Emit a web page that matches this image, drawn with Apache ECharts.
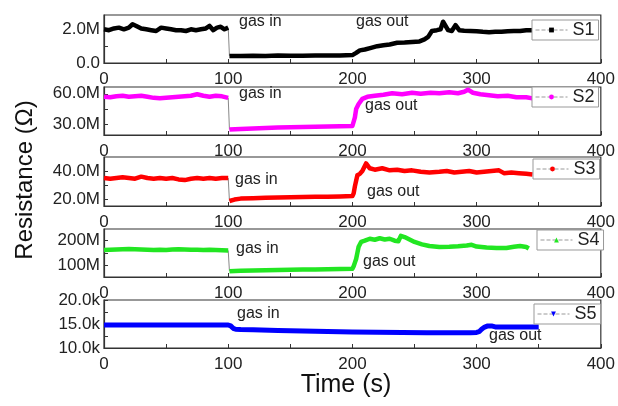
<!DOCTYPE html>
<html>
<head>
<meta charset="utf-8">
<script src="https://cdn.jsdelivr.net/npm/echarts@6/dist/echarts.min.js"></script>
<style>
  html, body { margin: 0; padding: 0; background: #fff; }
  #chart { width: 618px; height: 406px; }
</style>
</head>
<body>
<div id="chart"></div>
<script>
// x axis ticks / labels (s)
var xTicks = [0, 50, 100, 150, 200, 250, 300, 350, 400];
var xLabels = [0, 100, 200, 300, 400];

// S1 (M ohm)
var s1PreT = [0, 4, 8, 12, 16, 20, 23, 26, 30, 34, 38, 42, 46, 50, 54, 58, 62, 66, 70, 74, 78, 82, 85, 88, 91, 94, 97, 100];
var s1PreV = [2.0, 1.95, 2.05, 2.1, 2.0, 2.1, 2.3, 2.2, 2.05, 2.0, 1.95, 1.9, 2.1, 2.05, 2.0, 1.95, 1.95, 1.9, 2.0, 1.95, 2.0, 2.05, 2.2, 1.95, 2.1, 2.15, 2.0, 2.1];
var s1PostT = [101, 110, 120, 130, 140, 150, 160, 170, 180, 190, 200, 203, 206, 210, 215, 220, 225, 230, 236, 242, 248, 254, 258, 261, 264, 268, 271, 273, 275, 277, 280, 283, 286, 290, 295, 300, 305, 310, 315, 320, 325, 330, 335, 340, 345];
var s1PostV = [0.42, 0.42, 0.43, 0.42, 0.44, 0.43, 0.43, 0.44, 0.44, 0.45, 0.47, 0.6, 0.75, 0.8, 0.9, 1.0, 1.05, 1.1, 1.2, 1.22, 1.25, 1.28, 1.4, 1.55, 1.9, 1.95, 2.0, 2.45, 2.2, 1.95, 1.9, 2.25, 1.95, 1.92, 1.9, 1.88, 1.85, 1.83, 1.85, 1.85, 1.88, 1.9, 1.9, 1.95, 1.95];

// S2 (M ohm)
var s2PreT = [0, 5, 10, 15, 20, 25, 30, 35, 40, 45, 50, 55, 60, 65, 70, 75, 80, 85, 90, 95, 100];
var s2PreV = [57, 56.5, 57.5, 58, 57, 57.5, 58, 57, 56, 55.5, 56, 56.5, 57, 57.5, 58, 59.5, 58, 57, 58, 57.5, 56];
var s2PostT = [101, 110, 120, 130, 140, 150, 160, 170, 180, 190, 200, 201, 202, 203, 205, 208, 212, 218, 225, 232, 240, 248, 255, 263, 270, 278, 285, 290, 293, 297, 303, 310, 317, 325, 332, 340, 345];
var s2PostV = [25, 25.5, 26, 26.5, 27, 27.2, 27.5, 27.8, 28, 28.3, 28.5, 29, 37, 45, 50, 55, 57, 58, 59, 60.5, 59.5, 61, 60, 61, 60.5, 61.5, 60.5, 62, 64, 61, 59.5, 58.5, 57.5, 58, 56.5, 56.5, 55.5];

// S3 (M ohm)
var s3PreT = [0, 5, 10, 15, 20, 25, 30, 35, 40, 45, 50, 55, 60, 65, 70, 75, 80, 85, 90, 95, 100];
var s3PreV = [35, 34.5, 35, 35.5, 35, 34.5, 36, 35, 34.5, 35, 34.5, 35, 34, 33.5, 34.5, 35, 34.5, 35, 34.5, 35, 35];
var s3PostT = [101, 105, 110, 120, 130, 140, 150, 160, 170, 180, 190, 200, 201, 202, 203, 204, 206, 208, 211, 214, 218, 224, 230, 236, 242, 248, 255, 262, 270, 276, 282, 288, 294, 300, 306, 312, 318, 322, 328, 334, 340, 345];
var s3PostV = [18.5, 19.5, 20.2, 20.5, 20.8, 21, 21.2, 21.3, 21.5, 21.6, 21.8, 22, 24, 29, 33, 37, 38, 40, 45.5, 42, 41, 42, 40.5, 41, 40, 40.5, 39.5, 39, 39.5, 40, 39, 39.5, 40, 39, 39.5, 40, 40.5, 38.5, 39, 38.5, 38, 37.5];

// S4 (M ohm)
var s4PreT = [0, 5, 10, 15, 20, 25, 30, 35, 40, 45, 50, 55, 60, 65, 70, 75, 80, 85, 90, 95, 100];
var s4PreV = [162, 163, 164, 165, 166, 165, 164, 163, 162, 163, 162, 164, 165, 164, 163, 163, 162, 163, 162, 161, 160];
var s4PostT = [101, 110, 120, 130, 140, 150, 160, 170, 180, 190, 200, 201, 202, 203, 204, 205, 207, 210, 214, 218, 222, 226, 230, 234, 237, 239, 242, 246, 250, 256, 262, 270, 278, 285, 292, 296, 300, 308, 316, 324, 330, 335, 340, 342];
var s4PostV = [75, 77, 78, 79, 80, 81, 82, 82, 83, 84, 85, 95, 110, 125, 150, 175, 195, 200, 208, 204, 210, 205, 208, 200, 198, 220, 215, 205, 195, 185, 178, 174, 175, 177, 180, 183, 176, 172, 170, 170, 175, 178, 174, 168];

// S5 (k ohm)
var s5T = [0, 10, 20, 30, 40, 50, 60, 70, 80, 90, 100, 102, 104, 106, 110, 120, 140, 160, 180, 200, 220, 240, 260, 280, 295, 300, 302, 304, 306, 309, 312, 315, 320, 330, 340, 350];
var s5V = [14.8, 14.8, 14.8, 14.8, 14.8, 14.8, 14.8, 14.8, 14.8, 14.8, 14.8, 14.6, 14.1, 13.9, 13.85, 13.8, 13.65, 13.55, 13.45, 13.35, 13.3, 13.25, 13.2, 13.2, 13.2, 13.25, 13.4, 13.9, 14.3, 14.6, 14.6, 14.4, 14.35, 14.35, 14.35, 14.4];

// y tick values and their label texts
var y1Ticks = [0, 1, 2], y1Labels = ['0.0', '', '2.0M'];
var y2Ticks = [30, 45, 60], y2Labels = ['30.0M', '', '60.0M'];
var y3Ticks = [20, 30, 40], y3Labels = ['20.0M', '', '40.0M'];
var y4Ticks = [100, 150, 200], y4Labels = ['100M', '', '200M'];
var y5Ticks = [10, 12.5, 15, 17.5, 20], y5Labels = ['10.0k', '', '15.0k', '', '20.0k'];

function pairs(t, v) {
  return t.map(function (x, i) { return [x, v[i]]; });
}

var panels = [
  { name: 'S1', color: '#000000', symbol: 'rect', rotate: 0, pre: pairs(s1PreT, s1PreV), post: pairs(s1PostT, s1PostV), min: 0, max: 2.85, ticks: y1Ticks, labels: y1Labels },
  { name: 'S2', color: '#ff00ff', symbol: 'circle', rotate: 0, pre: pairs(s2PreT, s2PreV), post: pairs(s2PostT, s2PostV), min: 19.7, max: 66.6, ticks: y2Ticks, labels: y2Labels },
  { name: 'S3', color: '#ff0000', symbol: 'circle', rotate: 0, pre: pairs(s3PreT, s3PreV), post: pairs(s3PostT, s3PostV), min: 14.9, max: 50.1, ticks: y3Ticks, labels: y3Labels },
  { name: 'S4', color: '#22e622', symbol: 'triangle', rotate: 0, pre: pairs(s4PreT, s4PreV), post: pairs(s4PostT, s4PostV), min: 51, max: 248, ticks: y4Ticks, labels: y4Labels },
  { name: 'S5', color: '#0000ff', symbol: 'triangle', rotate: 180, pre: pairs(s5T, s5V), post: null, min: 10, max: 20, ticks: y5Ticks, labels: y5Labels }
];

// layout (pixels)
var gridTop = [15, 87, 157, 229, 300];
var gridH = [48, 48, 49, 48, 48];
var legendPos = [[532, 20], [532, 87], [533, 159], [537, 230], [534, 304]];
var notes = [
  ['gas in', 239, 22], ['gas out', 356, 22],
  ['gas in', 239, 94], ['gas out', 365, 106],
  ['gas in', 235, 180], ['gas out', 367, 192],
  ['gas in', 236, 249], ['gas out', 363, 262],
  ['gas in', 237, 314], ['gas out', 489, 336]
];

var FONT = 'Liberation Sans, Arial, sans-serif';
var chart = echarts.init(document.getElementById('chart'));

var grids = [], xAxes = [], yAxes = [], series = [], legends = [];
panels.forEach(function (p, i) {
  grids.push({
    left: 104, width: 500, top: gridTop[i], height: gridH[i],
    show: true, borderColor: '#333', borderWidth: 1.2
  });
  xAxes.push({
    type: 'value', gridIndex: i, min: 0, max: 400,
    axisLine: { lineStyle: { color: '#333', width: 1.2 } },
    axisTick: { inside: true, length: 4, customValues: xTicks, lineStyle: { color: '#333' } },
    axisLabel: { customValues: xLabels, fontSize: 17, color: '#222', margin: 8, fontFamily: FONT },
    splitLine: { show: false }
  });
  yAxes.push({
    type: 'value', gridIndex: i, min: p.min, max: p.max,
    axisLine: { show: true, lineStyle: { color: '#333', width: 1.2 } },
    axisTick: { inside: true, length: 4, customValues: p.ticks, lineStyle: { color: '#333' } },
    axisLabel: {
      customValues: p.ticks, fontSize: 17, color: '#222', margin: 4, fontFamily: FONT,
      formatter: function (v) { var k = p.ticks.indexOf(v); return k < 0 ? '' : p.labels[k]; }
    },
    splitLine: { show: false }
  });
  var lw = i === 4 ? 5 : 4.5;
  series.push({
    name: p.name, type: 'line', xAxisIndex: i, yAxisIndex: i,
    data: p.pre, symbol: p.symbol, symbolRotate: p.rotate, showSymbol: false,
    lineStyle: { color: p.color, width: lw, join: 'round' },
    itemStyle: { color: p.color }
  });
  if (p.post) {
    series.push({
      name: p.name, type: 'line', xAxisIndex: i, yAxisIndex: i,
      data: p.post, symbol: p.symbol, showSymbol: false,
      lineStyle: { color: p.color, width: lw, join: 'round' },
      itemStyle: { color: p.color }
    });
    // thin link across the gas-in step
    series.push({
      name: p.name + ' step', type: 'line', xAxisIndex: i, yAxisIndex: i,
      data: [p.pre[p.pre.length - 1], p.post[0]], symbol: 'none',
      lineStyle: { color: '#888', width: 1 }, z: 1
    });
  }
  legends.push({
    data: [p.name], left: legendPos[i][0], top: legendPos[i][1],
    orient: 'horizontal', itemWidth: 32, itemHeight: 6, itemGap: 3,
    padding: [1, 4, 1, 3],
    backgroundColor: '#fff', borderColor: '#999', borderWidth: 1,
    lineStyle: { color: '#999', type: 'dashed', width: 1 },
    textStyle: { fontSize: 18, color: '#222', fontFamily: FONT },
    selectedMode: false
  });
});

var graphics = notes.map(function (n) {
  return {
    type: 'text', x: n[1], y: n[2], z: 100,
    style: { text: n[0], fontSize: 16, fill: '#222', fontFamily: FONT, verticalAlign: 'middle' }
  };
});
graphics.push({
  type: 'text', x: 25, y: 180, rotation: Math.PI / 2, z: 100,
  style: { text: 'Resistance (\u03A9)', fontSize: 24, fill: '#111', fontFamily: FONT, align: 'center', verticalAlign: 'middle' }
});
graphics.push({
  type: 'text', x: 346, y: 385, z: 100,
  style: { text: 'Time (s)', fontSize: 25, fill: '#111', fontFamily: FONT, align: 'center', verticalAlign: 'middle' }
});

chart.setOption({
  animation: false,
  backgroundColor: '#fff',
  grid: grids,
  xAxis: xAxes,
  yAxis: yAxes,
  legend: legends,
  series: series,
  graphic: graphics
});
</script>
</body>
</html>
